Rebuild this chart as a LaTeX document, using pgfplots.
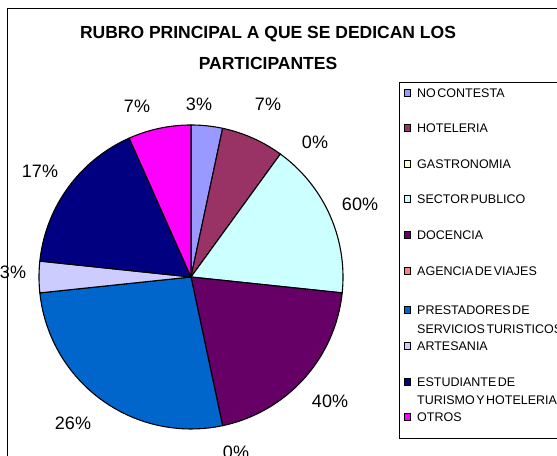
\documentclass[border=0pt]{standalone}
\usepackage{fontspec}
\setmainfont{Liberation Sans}
\usepackage{pgfplots}
\pgfplotsset{compat=1.18}

\definecolor{cNC}{HTML}{9999FF}
\definecolor{cHOT}{HTML}{993366}
\definecolor{cGAS}{HTML}{FFFFCC}
\definecolor{cSP}{HTML}{CCFFFF}
\definecolor{cDOC}{HTML}{660066}
\definecolor{cAG}{HTML}{FF8080}
\definecolor{cPS}{HTML}{0066CC}
\definecolor{cART}{HTML}{CCCCFF}
\definecolor{cEST}{HTML}{000080}
\definecolor{cOT}{HTML}{FF00FF}

% slice: colour, cumulative count before, cumulative count after (n = 30, 12 deg each)
\newcommand\slice[3]{%
  \addplot[draw=black, line width=1.1bp, line join=round, fill=#1,
    domain={90-12*#3}:{90-12*#2}, samples=40]
    ({cos(x)},{sin(x)}) -- (axis cs:0,0) -- cycle;}

\newcommand\pct{\fontsize{18bp}{20bp}\selectfont}
\newcommand\leg{\fontsize{12.5bp}{14bp}\selectfont\spaceskip=0.12em}

\begin{document}
\begin{tikzpicture}[x=1bp,y=1bp]
  \useasboundingbox (0,0) rectangle (557,456);
  \clip (0,0) rectangle (557,456);
  \fill[white] (0,0) rectangle (557,456);
  % outer frame
  \draw[line width=1bp] (7,-5) rectangle (570,447);

  \begin{axis}[
    x=152bp, y=152bp,
    xmin=-1, xmax=1, ymin=-1, ymax=1,
    hide axis, clip=false,
    at={(191bp,179bp)}, anchor=center]
    % counts: NC 1, HOT 2, GAS 0, SP 5, DOC 6, AG 0, PS 8, ART 1, EST 5, OT 2
    \slice{cNC}{0}{1}
    \slice{cHOT}{1}{3}
    \slice{cSP}{3}{8}
    \slice{cDOC}{8}{14}
    \slice{cPS}{14}{22}
    \slice{cART}{22}{23}
    \slice{cEST}{23}{28}
    \slice{cOT}{28}{30}
  \end{axis}

  % title
  \node[font=\fontsize{17.5bp}{20bp}\selectfont\bfseries] at (268,422) {RUBRO PRINCIPAL A QUE SE DEDICAN LOS};
  \node[font=\fontsize{17.5bp}{20bp}\selectfont\bfseries] at (268,393) {PARTICIPANTES};

  % data labels
  \node[font=\pct] at (137,350) {7\%};
  \node[font=\pct] at (199,352) {3\%};
  \node[font=\pct] at (268,352) {7\%};
  \node[font=\pct] at (315,314) {0\%};
  \node[font=\pct] at (360,252) {60\%};
  \node[font=\pct] at (330,55) {40\%};
  \node[font=\pct] at (236,4) {0\%};
  \node[font=\pct] at (73,33) {26\%};
  \node[font=\pct] at (13,184) {3\%};
  \node[font=\pct] at (40,285) {17\%};
  % frame line over the cut label
  \draw[line width=1bp] (7,-5) -- (7,447);

  % legend
  \draw[line width=1bp] (399,17) rectangle (570,373);
  \foreach \c/\y in {cNC/363, cHOT/328, cGAS/292, cSP/257, cDOC/221, cAG/185, cPS/146, cART/110, cEST/74, cOT/39}{
    \draw[line width=1bp, fill=\c] (404.5,\y-3.2) rectangle (410.5,\y+3.2);
  }
  \node[anchor=west, font=\leg, inner sep=0] at (417,363) {NO CONTESTA};
  \node[anchor=west, font=\leg, inner sep=0] at (417,328) {HOTELERIA};
  \node[anchor=west, font=\leg, inner sep=0] at (417,292) {GASTRONOMIA};
  \node[anchor=west, font=\leg, inner sep=0] at (417,257) {SECTOR PUBLICO};
  \node[anchor=west, font=\leg, inner sep=0] at (417,221) {DOCENCIA};
  \node[anchor=west, font=\leg, inner sep=0] at (417,185) {AGENCIA DE VIAJES};
  \node[anchor=west, font=\leg, inner sep=0] at (417,146) {PRESTADORES DE};
  \node[anchor=west, font=\leg, inner sep=0] at (417,127) {SERVICIOS TURISTICOS};
  \node[anchor=west, font=\leg, inner sep=0] at (417,110) {ARTESANIA};
  \node[anchor=west, font=\leg, inner sep=0] at (417,74) {ESTUDIANTE DE};
  \node[anchor=west, font=\leg, inner sep=0] at (417,56) {TURISMO Y HOTELERIA};
  \node[anchor=west, font=\leg, inner sep=0] at (417,39) {OTROS};
\end{tikzpicture}
\end{document}
